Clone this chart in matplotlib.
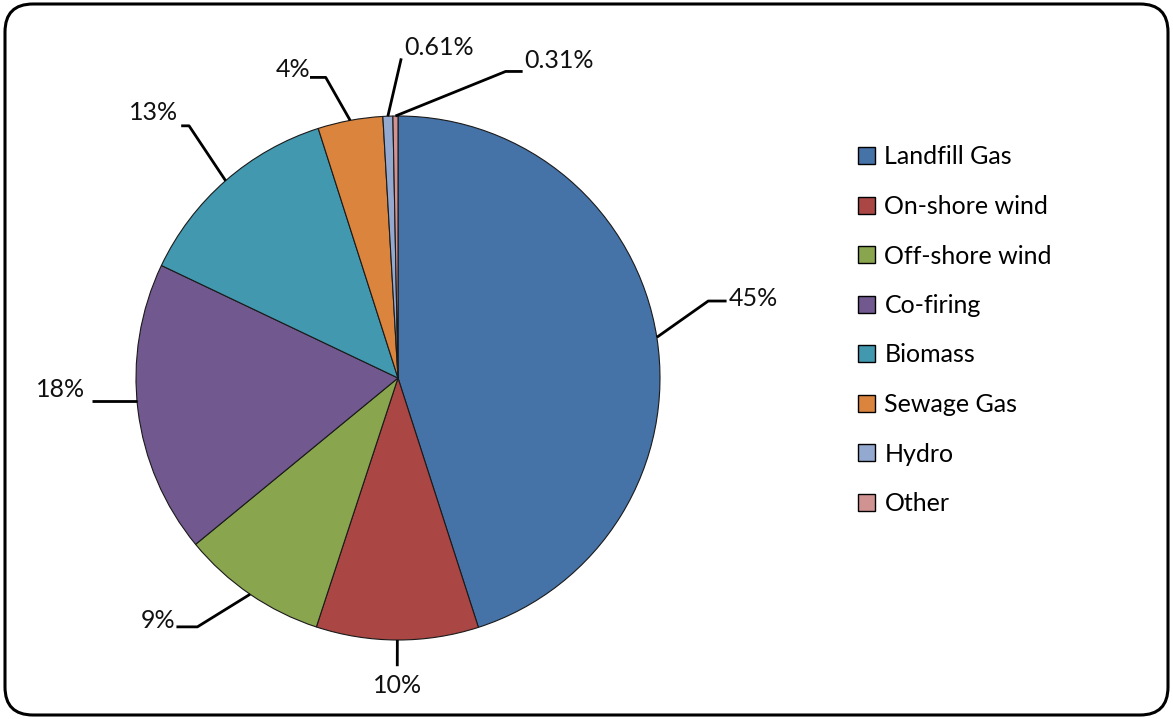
import numpy as np
import matplotlib
matplotlib.use("Agg")
import matplotlib.pyplot as plt
from matplotlib.patches import FancyBboxPatch, Patch

categories = ["Landfill Gas", "On-shore wind", "Off-shore wind", "Co-firing",
              "Biomass", "Sewage Gas", "Hydro", "Other"]
values = [45, 10, 9, 18, 13, 4, 0.61, 0.31]
labels = ["45%", "10%", "9%", "18%", "13%", "4%", "0.61%", "0.31%"]
colors = ["#4572A7", "#AA4643", "#89A54E", "#71588F",
          "#4198AF", "#DB843D", "#93A9CF", "#D19392"]

plt.rcParams['font.family'] = ['Lato', 'DejaVu Sans']
W, H = 1173, 719
fig = plt.figure(figsize=(W / 100, H / 100), dpi=100)

# pie axes: center (398,378) px, radius 262 px
cx, cy, R = 398, 378, 262
ax = fig.add_axes([(cx - R) / W, (H - cy - R) / H, 2 * R / W, 2 * R / H])
wedges, _ = ax.pie(values, colors=colors, startangle=90, counterclock=False,
                   radius=1.0, wedgeprops=dict(edgecolor="#1a1a1a", linewidth=0.8))
ax.set_xlim(-1, 1)
ax.set_ylim(-1, 1)
ax.set_aspect("equal")
ax.axis("off")

# leader-line styles
styles = [
    dict(aa=0.0, er=1.22, da=5.0, hl=0.07, ha="left", dx=0.01, dy=0.01, va="center"),
    dict(aa=0.0, er=1.10, da=0.0, hl=0.0, ha="center", dx=0.0, dy=-0.03, va="top"),
    dict(aa=0.0, er=1.22, da=-4.5, hl=-0.08, ha="right", dx=-0.005, dy=0.025, va="center"),
    dict(aa=-1.9, er=1.0, da=0.0, hl=-0.17, ha="right", dx=-0.03, dy=0.045, va="center"),
    dict(aa=0.0, er=1.25, da=-1.5, hl=-0.03, ha="right", dx=-0.01, dy=0.05, va="center"),
    dict(aa=0.0, er=1.18, da=3.0, hl=-0.06, ha="right", dx=0.0, dy=0.03, va="center"),
    dict(aa=0.0, er=1.22, da=-2.8, hl=0.0, ha="left", dx=0.01, dy=0.04, va="center"),
    dict(aa=0.0, er=1.24, da=-19.9, hl=0.065, ha="left", dx=0.005, dy=0.04, va="center"),
]

for w, lab, st in zip(wedges, labels, styles):
    mid = np.deg2rad((w.theta1 + w.theta2) / 2 + st["aa"])
    x0, y0 = np.cos(mid), np.sin(mid)
    a2 = mid + np.deg2rad(st["da"])
    x1, y1 = st["er"] * np.cos(a2), st["er"] * np.sin(a2)
    x2, y2 = x1 + st["hl"], y1
    ax.plot([x0, x1, x2], [y0, y1, y2], color="black", lw=2.0,
            solid_capstyle="butt", clip_on=False)
    ax.text(x2 + st["dx"], y2 + st["dy"], lab, ha=st["ha"], va=st["va"],
            fontsize=18, color="#111111")

handles = [Patch(facecolor=c, edgecolor="black", linewidth=1.0) for c in colors]
fig.legend(handles, categories, loc="upper left",
           bbox_to_anchor=(845 / W, 1 - 133 / H), frameon=False,
           fontsize=18, handlelength=0.68, handleheight=0.68,
           handletextpad=0.4, labelspacing=1.06, borderpad=0)

border = FancyBboxPatch((5, 4), W - 10, H - 8,
                        boxstyle="round,pad=0,rounding_size=28",
                        transform=None, facecolor="none", edgecolor="black",
                        linewidth=2.2)
fig.patches.append(border)

fig.savefig("out.png", dpi=100)
